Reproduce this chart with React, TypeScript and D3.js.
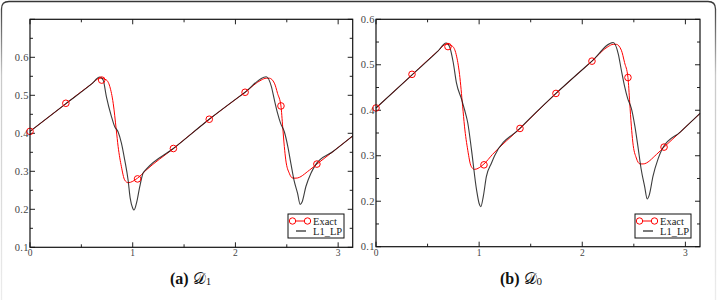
import * as d3 from "d3";

// Exact solution (red, smooth curve)
const exactX = [0, 0.35, 0.6, 0.68, 0.74, 0.777, 0.81, 0.84, 0.858, 0.89, 0.922, 0.955, 1.047, 1.13, 1.396, 1.745, 2.094, 2.25, 2.3, 2.33, 2.379, 2.41, 2.443, 2.46, 2.476, 2.49, 2.524, 2.56, 2.59, 2.72, 2.793, 2.95, 3.1416];
const exactY = [0.405, 0.478, 0.53, 0.545, 0.541, 0.523, 0.479, 0.409, 0.365, 0.312, 0.277, 0.27, 0.282, 0.303, 0.36, 0.437, 0.508, 0.54, 0.545, 0.545, 0.532, 0.505, 0.472, 0.417, 0.365, 0.33, 0.295, 0.282, 0.282, 0.303, 0.319, 0.352, 0.393];

// Exact markers
const markX = [0, 0.349, 0.698, 1.047, 1.396, 1.745, 2.094, 2.443, 2.793];
const markY = [0.405, 0.479, 0.54, 0.28, 0.36, 0.437, 0.508, 0.472, 0.319];

// L1_LP on D1
const d1X = [0, 0.35, 0.6, 0.68, 0.712, 0.744, 0.793, 0.825, 0.857, 0.89, 0.922, 0.955, 0.975, 1.0, 1.013, 1.04, 1.068, 1.1, 1.13, 1.396, 1.745, 2.094, 2.3, 2.35, 2.379, 2.41, 2.44, 2.476, 2.51, 2.54, 2.57, 2.605, 2.63, 2.65, 2.686, 2.735, 2.78, 2.95, 3.1416];
const d1Y = [0.405, 0.478, 0.53, 0.548, 0.54, 0.496, 0.444, 0.417, 0.404, 0.374, 0.33, 0.277, 0.23, 0.203, 0.198, 0.22, 0.259, 0.295, 0.305, 0.36, 0.437, 0.508, 0.549, 0.523, 0.488, 0.453, 0.426, 0.404, 0.365, 0.32, 0.277, 0.242, 0.213, 0.22, 0.26, 0.295, 0.317, 0.352, 0.393];

// L1_LP on D0
const d0X = [0, 0.35, 0.6, 0.68, 0.716, 0.749, 0.78, 0.83, 0.86, 0.89, 0.926, 0.975, 1.0, 1.016, 1.04, 1.07, 1.12, 1.15, 1.396, 1.745, 2.094, 2.3, 2.35, 2.379, 2.41, 2.44, 2.476, 2.51, 2.54, 2.57, 2.605, 2.63, 2.65, 2.686, 2.735, 2.78, 2.95, 3.1416];
const d0Y = [0.405, 0.478, 0.53, 0.548, 0.538, 0.505, 0.46, 0.424, 0.4, 0.372, 0.313, 0.225, 0.195, 0.188, 0.21, 0.254, 0.284, 0.3, 0.36, 0.437, 0.508, 0.549, 0.523, 0.488, 0.453, 0.426, 0.404, 0.365, 0.32, 0.272, 0.232, 0.205, 0.214, 0.255, 0.293, 0.317, 0.352, 0.393];

const xMajor = [0, 1, 2, 3];
const xMinor = [0.5, 1.5, 2.5];
const legendLabels = ["Exact", "L1_LP"];

const serif = "Liberation Serif, Times New Roman, serif";

type Pt = [number, number];
const zip = (xs: number[], ys: number[]): Pt[] => xs.map((x, i) => [x, ys[i]]);

type PanelProps = {
  left: number;
  right: number;
  top: number;
  bottom: number;
  yMax: number;
  lpX: number[];
  lpY: number[];
  tag: string;
  sub: string;
  capX: number;
  legX: number;
};

function Panel({ left, right, top, bottom, yMax, lpX, lpY, tag, sub, capX, legX }: PanelProps) {
  const x = d3.scaleLinear().domain([0, Math.PI]).range([left, right]);
  const y = d3.scaleLinear().domain([0.1, yMax]).range([bottom, top]);

  const line = d3
    .line<Pt>()
    .x((d) => x(d[0]))
    .y((d) => y(d[1]))
    .curve(d3.curveMonotoneX);

  const yMajor = d3.range(1, Math.round(yMax * 10) + 1).map((v) => v / 10);
  const yMinor = yMajor.map((v) => v + 0.05).filter((v) => v < yMax);
  const yLabels = yMajor.filter((v) => v <= 0.6001);

  const legY = 214;
  return (
    <g>
      {/* ticks */}
      {yMajor.map((v) => (
        <g key={"ym" + v} stroke="#222" strokeWidth={1}>
          <line x1={left} x2={left + 5} y1={y(v)} y2={y(v)} />
          <line x1={right} x2={right - 5} y1={y(v)} y2={y(v)} />
        </g>
      ))}
      {yMinor.map((v) => (
        <g key={"yn" + v} stroke="#222" strokeWidth={1}>
          <line x1={left} x2={left + 3} y1={y(v)} y2={y(v)} />
          <line x1={right} x2={right - 3} y1={y(v)} y2={y(v)} />
        </g>
      ))}
      {xMajor.map((v) => (
        <g key={"xm" + v} stroke="#222" strokeWidth={1}>
          <line x1={x(v)} x2={x(v)} y1={bottom} y2={bottom - 5} />
          <line x1={x(v)} x2={x(v)} y1={top} y2={top + 5} />
        </g>
      ))}
      {xMinor.map((v) => (
        <g key={"xn" + v} stroke="#222" strokeWidth={1}>
          <line x1={x(v)} x2={x(v)} y1={bottom} y2={bottom - 3} />
          <line x1={x(v)} x2={x(v)} y1={top} y2={top + 3} />
        </g>
      ))}
      {yLabels.map((v) => (
        <text
          key={"yl" + v}
          x={left - 1}
          y={y(v) + 3.5}
          textAnchor="end"
          fontFamily={serif}
          fontSize={10.5}
          letterSpacing={0.4}
          fill="#444"
        >
          {v.toFixed(1)}
        </text>
      ))}
      {xMajor.map((v) => (
        <text
          key={"xl" + v}
          x={x(v)}
          y={bottom + 9}
          textAnchor="middle"
          fontFamily={serif}
          fontSize={9.5}
          fill="#444"
        >
          {v}
        </text>
      ))}

      {/* curves */}
      <path d={line(zip(exactX, exactY)) ?? ""} fill="none" stroke="#ff0000" strokeWidth={1} />
      <path d={line(zip(lpX, lpY)) ?? ""} fill="none" stroke="#1a1a1a" strokeOpacity={0.85} strokeWidth={1.1} />
      {markX.map((v, i) => (
        <circle key={"m" + i} cx={x(v)} cy={y(markY[i])} r={3.3} fill="none" stroke="#ff0000" strokeWidth={1} />
      ))}

      {/* frame */}
      <rect x={left} y={top} width={right - left} height={bottom - top} fill="none" stroke="#111" strokeWidth={1.2} />

      {/* legend */}
      <rect x={legX} y={legY} width={56} height={24} fill="#fff" stroke="#111" strokeWidth={1} />
      <line x1={legX + 4} x2={legX + 20} y1={legY + 7} y2={legY + 7} stroke="#ff0000" strokeWidth={1} />
      <circle cx={legX + 4.5} cy={legY + 7} r={3.2} fill="#fff" stroke="#ff0000" strokeWidth={1} />
      <circle cx={legX + 19.5} cy={legY + 7} r={3.2} fill="#fff" stroke="#ff0000" strokeWidth={1} />
      <line x1={legX + 8} x2={legX + 18} y1={legY + 17} y2={legY + 17} stroke="#222" strokeWidth={1.2} />
      {legendLabels.map((t, i) => (
        <text key={t} x={legX + 25} y={legY + 10.5 + i * 10} fontFamily={serif} fontSize={10.5} fill="#222">
          {t}
        </text>
      ))}

      {/* caption */}
      <text x={capX} y={284} fontFamily={serif} fontSize={16} fill="#111">
        <tspan fontWeight="bold">{tag}</tspan>
        <tspan dx={4}>{"\u{1D49F}"}</tspan>
        <tspan fontSize={11} dy={1}>{sub}</tspan>
      </text>
    </g>
  );
}

export default function App() {
  return (
    <div style={{ position: "absolute", left: 0, top: 0 }}>
      <svg width={717} height={300} style={{ display: "block", background: "#fff" }}>
        <defs>
          <linearGradient id="edge" gradientUnits="userSpaceOnUse" x1={0} y1={0} x2={0} y2={300}>
            <stop offset="0" stopColor="#333" />
            <stop offset="0.25" stopColor="#c8c8c8" />
            <stop offset="1" stopColor="#ececec" />
          </linearGradient>
        </defs>
        <path d="M1.5,300 V9 Q1.5,1.5 9,1.5 H708 Q715.5,1.5 715.5,9 V300" fill="none" stroke="url(#edge)" strokeWidth={1.3} />
        <Panel left={30} right={352.7} top={19.3} bottom={247.3} yMax={0.7} lpX={d1X} lpY={d1Y} tag="(a)" sub="1" capX={170} legX={288} />
        <Panel left={376} right={700} top={19.3} bottom={246.7} yMax={0.6} lpX={d0X} lpY={d0Y} tag="(b)" sub="0" capX={500} legX={635} />
      </svg>
    </div>
  );
}
